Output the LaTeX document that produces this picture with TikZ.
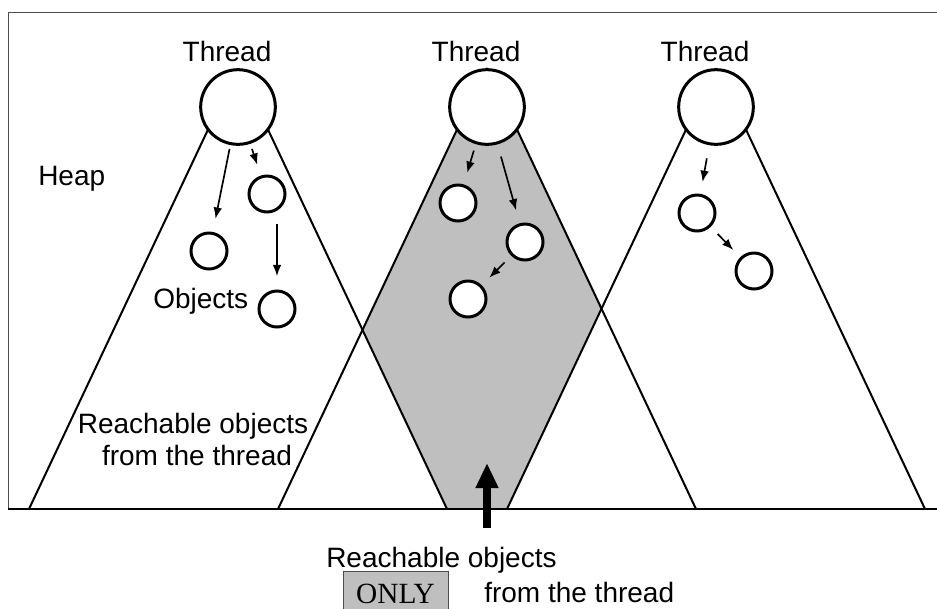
\documentclass[tikz,border=0pt]{standalone}
\usepackage{fontspec}
\setmainfont{Liberation Sans}
\newfontfamily\timesfont{Liberation Serif}
\usetikzlibrary{arrows.meta}

\begin{document}
\begin{tikzpicture}[x=0.75pt,y=-0.75pt,>={Latex[length=8.5pt,width=6.5pt]},
	thread/.style={circle,draw,fill=white,line width=2.25pt,minimum size=56pt,inner sep=0pt},
	obj/.style={circle,draw,fill=white,line width=2.25pt,minimum size=27pt,inner sep=0pt},
	cone/.style={line width=1.5pt,shorten >=50pt},
	ref/.style={->,line width=1.25pt,shorten <=5pt,shorten >=9pt},
	lbl/.style={font=\fontsize{21pt}{25pt}\selectfont,inner sep=0pt,anchor=base}]
\clip (0,0) rectangle (937,608);
\def\yapex{66}
\def\ybase{509}

\coordinate (a1) at (238,\yapex); \coordinate (l1) at (29,\ybase);  \coordinate (r1) at (447,\ybase);
\coordinate (a2) at (487,\yapex); \coordinate (l2) at (278,\ybase); \coordinate (r2) at (696,\ybase);
\coordinate (a3) at (716,\yapex); \coordinate (l3) at (507,\ybase); \coordinate (r3) at (925,\ybase);

% only the middle thread reaches this part
\fill[gray!50] (a2) -- (intersection of a2--l2 and a1--r1) -- (r1) -- (l3)
	-- (intersection of a3--l3 and a2--r2) -- cycle;

\draw[line width=0.75pt,black!70] (937,12) -- (8,12) -- (8,\ybase);
\draw[line width=1.5pt] (8,\ybase) -- (937,\ybase);

\draw[cone] (l1) -- (a1); \draw[cone] (r1) -- (a1);
\draw[cone] (l2) -- (a2); \draw[cone] (r2) -- (a2);
\draw[cone] (l3) -- (a3); \draw[cone] (r3) -- (a3);

\node[thread] (t1) at (238,107) {};
\node[thread] (t2) at (487,107) {};
\node[thread] (t3) at (716,107) {};

\node[obj] (o1) at (209,251) {};
\node[obj] (o2) at (267,194) {};
\node[obj] (o3) at (277,309) {};
\node[obj] (o4) at (458,203) {};
\node[obj] (o5) at (525,242) {};
\node[obj] (o6) at (468,299) {};
\node[obj] (o7) at (697,213) {};
\node[obj] (o8) at (754,271) {};

\draw[ref,shorten <=3pt,shorten >=10pt] (t1) -- (o1);
\draw[ref,shorten <=4pt,shorten >=8.5pt] (t1) -- (o2);
\draw[ref,shorten <=8pt,shorten >=10pt] (o2.south -| o3) -- (o3);
\draw[ref] (t2) -- (o4);
\draw[ref,shorten <=9.5pt,shorten >=10pt] (t2) -- (o5);
\draw[ref,shorten <=7pt,shorten >=8pt] (o5) -- (o6);
\draw[ref,shorten <=10pt] (t3) -- (o7);
\draw[ref,shorten <=7.5pt,shorten >=7.5pt] (o7) -- (o8);

\node[lbl] (th1) at (227,61) {Thread};
\node[lbl] (th2) at (476,61) {Thread};
\node[lbl] (th3) at (705,61) {Thread};
\node[lbl,anchor=base west] (heap) at (38,185) {Heap};
\node[lbl,anchor=base west] (objs) at (153,308) {Objects};
\node[lbl] (reach1) at (193,433) {Reachable objects};
\node[lbl] (from1) at (197,465) {from the thread};

\coordinate (tail) at (487,528);
\coordinate (tip) at (487,463);
\draw[line width=6.5pt,-{Triangle[length=18.75pt,width=16pt]}] (tail) -- (tip);

\node[lbl,anchor=base west] (reach2) at (326,567) {Reachable objects};
\node[draw=black!70,fill=gray!50,line width=0.75pt,minimum width=78.75pt,minimum height=34.5pt,
	inner sep=0pt,font=\timesfont\fontsize{22pt}{26pt}\selectfont] (only) at (395.5,594) {ONLY};
\node[lbl,anchor=base west] (from2) at (484,602) {from the thread};
\end{tikzpicture}
\end{document}
